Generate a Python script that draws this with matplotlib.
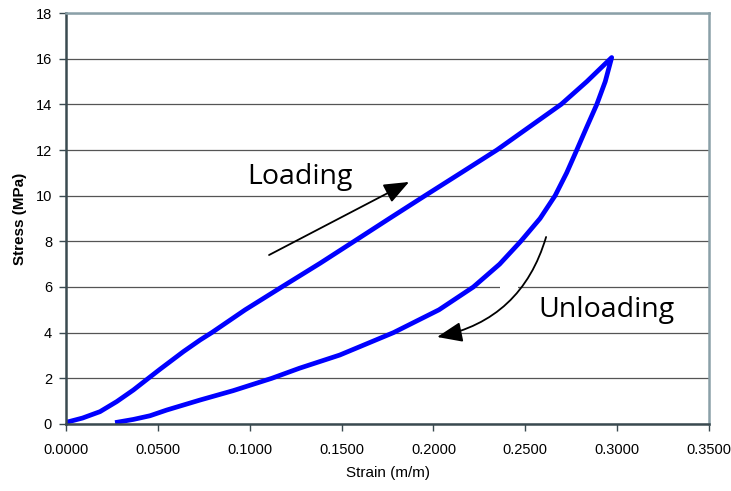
import matplotlib.pyplot as plt
from matplotlib.patches import Rectangle

# loading branch (strain, stress)
load_strain = [0.000, 0.009, 0.0185, 0.0276, 0.0367, 0.0448, 0.0512, 0.0639, 0.073, 0.0793,
               0.0975, 0.1174, 0.1383, 0.1568, 0.176, 0.1954, 0.215, 0.2345, 0.252, 0.2695,
               0.2835, 0.297]
load_stress = [0.07, 0.26, 0.54, 0.98, 1.49, 2.0, 2.4, 3.17, 3.68, 4.0,
               5.0, 6.0, 7.04, 8.0, 9.0, 10.0, 11.0, 12.0, 13.0, 14.0,
               15.0, 16.05]

# unloading branch
unload_strain = [0.297, 0.2935, 0.2889, 0.2834, 0.278, 0.2725, 0.2662, 0.258, 0.2475, 0.236,
                 0.2217, 0.203, 0.1782, 0.149, 0.127, 0.112, 0.091, 0.073, 0.0548, 0.0457,
                 0.0367, 0.0267]
unload_stress = [16.05, 15.0, 14.0, 13.0, 12.0, 11.0, 10.0, 9.0, 8.0, 7.0,
                 6.0, 5.0, 4.0, 3.02, 2.44, 2.0, 1.46, 1.05, 0.61, 0.36,
                 0.2, 0.06]

xticks = [0.0, 0.05, 0.10, 0.15, 0.20, 0.25, 0.30, 0.35]
yticks = list(range(0, 19, 2))

plt.rcParams['font.family'] = ['Liberation Sans', 'DejaVu Sans']

fig = plt.figure(figsize=(7.31, 4.91), dpi=100)
ax = fig.add_axes([0.0903, 0.1365, 0.8797, 0.837])

ax.plot(load_strain + unload_strain[1:], load_stress + unload_stress[1:],
        color='#0000ff', lw=3.4, solid_capstyle='butt', solid_joinstyle='round', zorder=2)

ax.set_xlim(0, 0.35)
ax.set_ylim(0, 18)
ax.set_xticks(xticks)
ax.set_xticklabels([f"{v:.4f}" for v in xticks])
ax.set_yticks(yticks)
ax.set_axisbelow(True)
ax.yaxis.grid(True, color='#555555', lw=0.9)
ax.tick_params(labelsize=10.5, length=5, width=1, color='#3a4a50')
ax.tick_params(axis='x', pad=9)
ax.tick_params(axis='y', pad=5)

for s in ['left', 'bottom']:
    ax.spines[s].set_color('#3a4a50')
    ax.spines[s].set_linewidth(1.8)
for s in ['top', 'right']:
    ax.spines[s].set_color('#8aa0a8')
    ax.spines[s].set_linewidth(1.8)

ax.set_xlabel('Strain (m/m)', fontsize=11, labelpad=6)
ax.set_ylabel('Stress (MPa)', fontsize=11, fontweight='bold', labelpad=6)

# small white gap in the 6 MPa gridline next to the unloading arrow
ax.add_patch(Rectangle((0.2363, 5.85), 0.0097, 0.3, facecolor='white',
                       edgecolor='none', zorder=1))

ax.text(0.0984, 10.50, 'Loading', fontsize=20.5, family='Open Sans',
        ha='left', va='baseline', zorder=3)
ax.text(0.2571, 4.70, 'Unloading', fontsize=20.5, family='Open Sans',
        ha='left', va='baseline', zorder=3)

arrow = '-|>,head_length=0.7,head_width=0.28'
ax.annotate('', xy=(0.1867, 10.6), xytext=(0.1105, 7.40),
            arrowprops=dict(arrowstyle=arrow, color='black', lw=1.3,
                            mutation_scale=22, shrinkA=0, shrinkB=0), zorder=3)
ax.annotate('', xy=(0.202, 3.81), xytext=(0.2613, 8.19),
            arrowprops=dict(arrowstyle=arrow, color='black', lw=1.3,
                            mutation_scale=22, shrinkA=0, shrinkB=0,
                            connectionstyle='arc3,rad=-0.3'), zorder=3)

fig.savefig('out.png', dpi=100)
